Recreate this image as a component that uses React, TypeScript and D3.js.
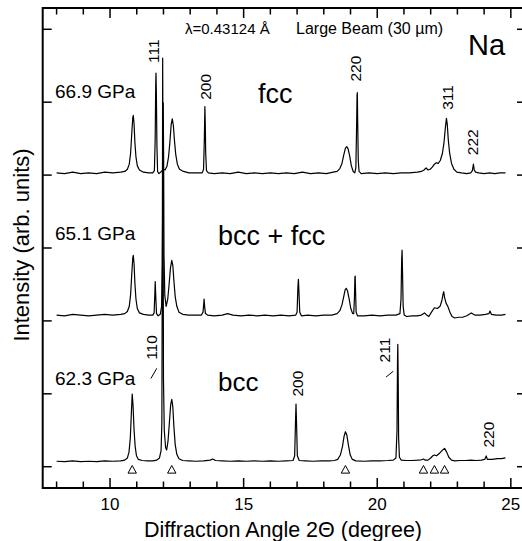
import React from 'react';
import * as d3 from 'd3';

// 2-theta (degree) vs intensity (arb. units)
const trace669: [number, number][] = [
  [8.0, 4.03], [8.3, 4.02], [8.6, 4.04], [8.9, 4.02], [9.2, 4.03], [9.5, 4.02], [9.8, 4.04], [10.1, 4.03],
  [10.4, 4.04], [10.55, 4.05], [10.65, 4.08], [10.72, 4.15], [10.77, 4.3], [10.81, 4.55], [10.85, 4.78],
  [10.87, 4.82], [10.9, 4.7], [10.93, 4.45], [10.97, 4.25], [11.02, 4.13], [11.1, 4.07], [11.25, 4.04],
  [11.45, 4.03], [11.6, 4.03], [11.66, 4.06], [11.69, 4.5], [11.71, 5.25], [11.72, 5.4], [11.735, 5.1],
  [11.755, 4.4], [11.78, 4.05], [11.83, 4.02], [11.92, 4.05], [12.0, 4.08], [12.06, 4.07], [12.13, 4.12],
  [12.19, 4.25], [12.24, 4.45], [12.29, 4.7], [12.33, 4.77], [12.37, 4.68], [12.41, 4.48], [12.46, 4.28],
  [12.52, 4.15], [12.6, 4.08], [12.75, 4.05], [12.95, 4.03], [13.2, 4.03], [13.45, 4.03], [13.5, 4.08],
  [13.53, 4.5], [13.55, 4.94], [13.565, 4.7], [13.58, 4.3], [13.61, 4.06], [13.68, 4.03], [13.9, 4.02],
  [14.2, 4.03], [14.5, 4.02], [14.8, 4.04], [15.1, 4.02], [15.4, 4.03], [15.7, 4.02], [16.0, 4.03],
  [16.3, 4.02], [16.6, 4.03], [16.9, 4.02], [17.2, 4.04], [17.5, 4.02], [17.8, 4.03], [18.1, 4.02],
  [18.35, 4.04], [18.5, 4.05], [18.6, 4.09], [18.68, 4.16], [18.75, 4.28], [18.81, 4.37], [18.86, 4.39],
  [18.91, 4.36], [18.97, 4.26], [19.03, 4.13], [19.1, 4.05], [19.16, 4.03], [19.2, 4.1], [19.225, 4.6],
  [19.245, 5.1], [19.255, 5.13], [19.27, 4.7], [19.29, 4.2], [19.32, 4.05], [19.4, 4.02], [19.7, 4.03],
  [20.0, 4.02], [20.3, 4.03], [20.6, 4.02], [20.9, 4.03], [21.2, 4.03], [21.5, 4.04], [21.65, 4.05],
  [21.75, 4.07], [21.83, 4.1], [21.9, 4.07], [21.98, 4.08], [22.06, 4.11], [22.14, 4.15], [22.21, 4.17],
  [22.28, 4.16], [22.36, 4.2], [22.44, 4.3], [22.5, 4.45], [22.55, 4.65], [22.59, 4.78], [22.62, 4.7],
  [22.66, 4.48], [22.71, 4.3], [22.78, 4.16], [22.87, 4.08], [22.98, 4.04], [23.15, 4.03], [23.35, 4.02],
  [23.5, 4.03], [23.56, 4.06], [23.6, 4.15], [23.63, 4.07], [23.68, 4.04], [23.8, 4.03], [24.0, 4.02],
  [24.2, 4.03], [24.4, 4.02], [24.6, 4.03], [24.8, 4.03],
];

const trace651: [number, number][] = [
  [8.0, 2.08], [8.3, 2.07], [8.6, 2.09], [8.9, 2.08], [9.2, 2.07], [9.5, 2.08], [9.8, 2.09], [10.1, 2.08],
  [10.4, 2.09], [10.55, 2.1], [10.65, 2.13], [10.72, 2.2], [10.77, 2.36], [10.81, 2.62], [10.85, 2.86],
  [10.87, 2.9], [10.9, 2.78], [10.93, 2.52], [10.97, 2.3], [11.02, 2.17], [11.1, 2.11], [11.25, 2.09],
  [11.45, 2.08], [11.6, 2.08], [11.65, 2.11], [11.68, 2.4], [11.69, 2.54], [11.71, 2.35], [11.74, 2.1],
  [11.8, 2.07], [11.88, 2.09], [11.93, 2.2], [11.96, 2.8], [11.98, 4.5], [11.99, 4.99], [12.005, 4.3],
  [12.02, 2.9], [12.05, 2.35], [12.1, 2.2], [12.16, 2.3], [12.21, 2.5], [12.26, 2.72], [12.31, 2.83],
  [12.35, 2.76], [12.39, 2.55], [12.44, 2.33], [12.5, 2.2], [12.58, 2.12], [12.72, 2.09], [12.95, 2.08],
  [13.2, 2.08], [13.42, 2.08], [13.48, 2.12], [13.51, 2.25], [13.52, 2.3], [13.54, 2.2], [13.57, 2.1],
  [13.65, 2.08], [13.9, 2.07], [14.2, 2.08], [14.4, 2.1], [14.6, 2.08], [14.9, 2.07], [15.2, 2.08],
  [15.5, 2.07], [15.8, 2.08], [16.1, 2.07], [16.4, 2.08], [16.7, 2.07], [16.95, 2.08], [17.0, 2.12],
  [17.03, 2.45], [17.05, 2.57], [17.07, 2.4], [17.1, 2.12], [17.16, 2.07], [17.4, 2.08], [17.7, 2.07],
  [18.0, 2.08], [18.3, 2.08], [18.5, 2.1], [18.6, 2.14], [18.68, 2.22], [18.75, 2.34], [18.8, 2.43],
  [18.84, 2.447], [18.89, 2.41], [18.95, 2.3], [19.01, 2.17], [19.08, 2.1], [19.12, 2.1], [19.145, 2.3],
  [19.165, 2.6], [19.175, 2.616], [19.19, 2.4], [19.21, 2.12], [19.26, 2.07], [19.5, 2.07], [19.8, 2.08],
  [20.1, 2.07], [20.4, 2.08], [20.7, 2.08], [20.85, 2.1], [20.89, 2.3], [20.915, 2.85], [20.93, 2.97],
  [20.945, 2.7], [20.97, 2.2], [21.01, 2.08], [21.1, 2.06], [21.3, 2.07], [21.5, 2.07], [21.65, 2.08],
  [21.77, 2.11], [21.85, 2.08], [21.93, 2.06], [22.03, 2.12], [22.14, 2.18], [22.25, 2.17], [22.35, 2.2],
  [22.42, 2.28], [22.47, 2.38], [22.49, 2.4], [22.52, 2.32], [22.58, 2.24], [22.64, 2.2], [22.72, 2.12],
  [22.8, 2.06], [22.9, 2.04], [23.05, 2.05], [23.2, 2.05], [23.35, 2.07], [23.52, 2.11], [23.65, 2.08],
  [23.85, 2.08], [24.05, 2.09], [24.18, 2.1], [24.22, 2.135], [24.27, 2.09], [24.45, 2.08], [24.65, 2.08],
  [24.8, 2.09],
];

const trace623: [number, number][] = [
  [8.0, 0.075], [8.3, 0.07], [8.6, 0.08], [8.9, 0.07], [9.2, 0.075], [9.5, 0.07], [9.8, 0.08], [10.1, 0.075],
  [10.4, 0.08], [10.55, 0.09], [10.65, 0.12], [10.71, 0.2], [10.76, 0.4], [10.8, 0.75], [10.83, 0.997],
  [10.86, 0.85], [10.9, 0.5], [10.94, 0.28], [10.99, 0.15], [11.06, 0.1], [11.2, 0.085], [11.4, 0.08],
  [11.6, 0.08], [11.75, 0.09], [11.85, 0.12], [11.91, 0.22], [11.94, 0.6], [11.96, 3.5], [11.97, 5.606],
  [11.985, 4.0], [12.0, 1.2], [12.03, 0.5], [12.08, 0.26], [12.12, 0.23], [12.17, 0.35], [12.22, 0.6],
  [12.27, 0.85], [12.31, 0.925], [12.35, 0.82], [12.39, 0.55], [12.44, 0.3], [12.5, 0.17], [12.58, 0.11],
  [12.72, 0.085], [12.95, 0.08], [13.2, 0.075], [13.5, 0.08], [13.75, 0.09], [13.84, 0.106], [13.95, 0.085],
  [14.2, 0.08], [14.5, 0.075], [14.8, 0.08], [15.1, 0.075], [15.4, 0.08], [15.7, 0.075], [16.0, 0.08],
  [16.3, 0.075], [16.6, 0.08], [16.85, 0.085], [16.91, 0.15], [16.94, 0.6], [16.96, 0.86], [16.98, 0.6],
  [17.01, 0.15], [17.08, 0.085], [17.3, 0.08], [17.6, 0.075], [17.9, 0.08], [18.2, 0.08], [18.4, 0.085],
  [18.52, 0.1], [18.62, 0.16], [18.7, 0.28], [18.76, 0.42], [18.81, 0.48], [18.86, 0.44], [18.92, 0.3],
  [18.99, 0.16], [19.07, 0.1], [19.2, 0.08], [19.5, 0.075], [19.8, 0.08], [20.1, 0.08], [20.4, 0.085],
  [20.6, 0.09], [20.7, 0.12], [20.74, 0.5], [20.76, 1.5], [20.77, 1.68], [20.785, 1.2], [20.8, 0.4],
  [20.83, 0.13], [20.9, 0.09], [21.1, 0.085], [21.3, 0.085], [21.5, 0.09], [21.65, 0.095], [21.73, 0.106],
  [21.8, 0.09], [21.9, 0.09], [22.0, 0.12], [22.08, 0.15], [22.14, 0.16], [22.22, 0.15], [22.32, 0.18],
  [22.42, 0.22], [22.52, 0.252], [22.6, 0.2], [22.68, 0.13], [22.78, 0.09], [22.9, 0.08], [23.1, 0.085],
  [23.3, 0.085], [23.5, 0.09], [23.7, 0.085], [23.9, 0.09], [24.02, 0.1], [24.08, 0.147], [24.12, 0.1],
  [24.3, 0.1], [24.5, 0.11], [24.65, 0.11], [24.8, 0.12],
];

const traces = [trace623, trace651, trace669];

// open triangles under the 62.3 GPa pattern
const trianglePos = [10.83, 12.31, 18.81, 21.73, 22.14, 22.52];
const triangleLevel = -0.036;

// Miller index labels: text, 2theta, intensity at label centre
const hklLabels: { text: string; x: number; y: number }[] = [
  { text: '111', x: 11.625, y: 5.7 },
  { text: '200', x: 13.59, y: 5.21 },
  { text: '220', x: 19.17, y: 5.46 },
  { text: '311', x: 22.62, y: 5.065 },
  { text: '222', x: 23.57, y: 4.45 },
  { text: '110', x: 11.57, y: 1.635 },
  { text: '211', x: 20.29, y: 1.6 },
  { text: '200', x: 17.0, y: 1.14 },
  { text: '220', x: 24.17, y: 0.44 },
];
const leaders: [number, number, number, number][] = [
  [11.53, 1.21, 11.75, 1.35],
  [20.33, 1.23, 20.6, 1.31],
];

const xTicks = d3.range(8, 26, 1);
const xTickLabels = [10, 15, 20, 25];
const yTicks = [0, 1, 2, 3, 4, 5, 6];

const W = 522;
const H = 541;
const left = 42.7;
const right = 528;
const top = 8;
const bottom = 488;
const font = '"Liberation Sans", Arial, Helvetica, sans-serif';

export default function App() {
  const x = d3.scaleLinear().domain([7.48, 7.48 + (right - left) / 26.72]).range([left, right]);
  const y = d3.scaleLinear().domain([-0.292, 6.292]).range([bottom, top]);

  const line = d3.line<[number, number]>()
    .x(d => x(d[0]))
    .y(d => y(d[1]));

  return (
    <svg width={W} height={H} style={{ position: 'absolute', left: 0, top: 0, background: '#fff' }}
      fontFamily={font}>
      {/* patterns */}
      {traces.map((t, i) => (
        <path key={i} d={line(t) ?? ''} fill="none" stroke="#000" strokeWidth={1.2} strokeLinejoin="round" />
      ))}

      {/* triangles */}
      {trianglePos.map((p, i) => {
        const cx = x(p);
        const cy = y(triangleLevel);
        return (
          <path key={i} d={`M${cx - 4.2},${cy + 3.8}L${cx + 4.2},${cy + 3.8}L${cx},${cy - 3.8}Z`}
            fill="none" stroke="#000" strokeWidth={1} />
        );
      })}

      {/* hkl labels */}
      {hklLabels.map((l, i) => (
        <text key={i} transform={`translate(${x(l.x)},${y(l.y)}) rotate(-90)`} textAnchor="middle"
          dominantBaseline="central" fontSize={15.5}>{l.text}</text>
      ))}
      {leaders.map((l, i) => (
        <line key={i} x1={x(l[0])} y1={y(l[1])} x2={x(l[2])} y2={y(l[3])} stroke="#000" strokeWidth={1} />
      ))}

      {/* frame */}
      <rect x={left} y={top} width={right - left} height={bottom - top} fill="none" stroke="#000" strokeWidth={2} />
      {xTicks.map(t => {
        const len = t % 5 === 0 ? 10 : 6.5;
        return (
          <g key={t}>
            <line x1={x(t)} x2={x(t)} y1={bottom} y2={bottom - len} stroke="#000" strokeWidth={1.5} />
            <line x1={x(t)} x2={x(t)} y1={top} y2={top + len} stroke="#000" strokeWidth={1.5} />
          </g>
        );
      })}
      {yTicks.map(t => (
        <g key={t}>
          <line x1={left} x2={left + 9} y1={y(t)} y2={y(t)} stroke="#000" strokeWidth={1.5} />
          <line x1={right} x2={517} y1={y(t)} y2={y(t)} stroke="#000" strokeWidth={1.5} />
        </g>
      ))}
      {xTickLabels.map(t => (
        <text key={t} x={x(t)} y={510} textAnchor="middle" fontSize={17}>{t}</text>
      ))}

      {/* axis titles */}
      <text x={283} y={537} textAnchor="middle" fontSize={21.5}>Diffraction Angle 2Θ (degree)</text>
      <text transform="translate(29,245) rotate(-90)" textAnchor="middle" fontSize={22}>Intensity (arb. units)</text>

      {/* annotations */}
      <text x={185} y={34} fontSize={15}>λ=0.43124 Å</text>
      <text x={296} y={34} fontSize={16}>Large Beam (30 µm)</text>
      <text x={468} y={55} fontSize={29}>Na</text>
      <text x={55} y={98} fontSize={19}>66.9 GPa</text>
      <text x={55} y={240} fontSize={19}>65.1 GPa</text>
      <text x={55} y={385} fontSize={19}>62.3 GPa</text>
      <text x={258} y={103} fontSize={27}>fcc</text>
      <text x={218} y={245} fontSize={27}>bcc + fcc</text>
      <text x={218} y={391} fontSize={26}>bcc</text>
    </svg>
  );
}
